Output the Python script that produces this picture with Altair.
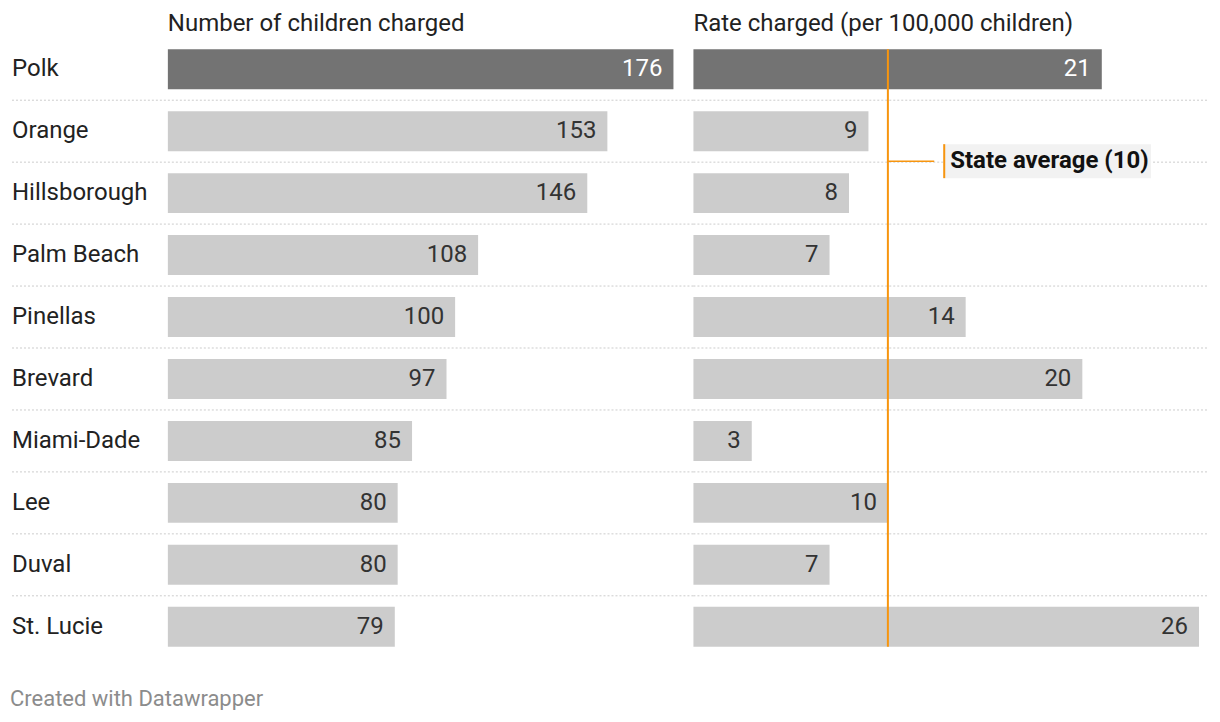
import altair as alt
import pandas as pd

counties = ["Polk", "Orange", "Hillsborough", "Palm Beach", "Pinellas",
            "Brevard", "Miami-Dade", "Lee", "Duval", "St. Lucie"]
charged = [176, 153, 146, 108, 100, 97, 85, 80, 80, 79]
rate = [21, 9, 8, 7, 14, 20, 3, 10, 7, 26]
state_avg = 10
header_left = "Number of children charged"
header_right = "Rate charged (per 100,000 children)"
footer = "Created with Datawrapper"
avg_label = "State average (10)"

df = pd.DataFrame({"county": counties, "charged": charged, "rate": rate})
df["hl"] = df["county"] == "Polk"
sep = df[df["county"] != counties[-1]]

FONT = "Roboto"
H = 620
yenc = alt.Y("county:N", sort=counties, axis=None,
             scale=alt.Scale(paddingInner=22 / 62, paddingOuter=11 / 62))
bar_color = alt.condition("datum.hl", alt.value("#737373"), alt.value("#cccccc"))
lab_color = alt.condition("datum.hl", alt.value("#ffffff"), alt.value("#333333"))


def separators(width, start=0):
    return alt.Chart(sep).mark_rule(
        color="#cccccc", strokeDash=[2, 2], strokeWidth=1, yOffset=31
    ).encode(y=yenc, x=alt.value(start), x2=alt.value(width))


def header(text):
    return alt.Chart(pd.DataFrame({"t": [text]})).mark_text(
        align="left", baseline="middle", font=FONT, fontSize=24, color="#222222"
    ).encode(text="t:N", x=alt.value(0), y=alt.value(-14))


# labels column
LW = 158
labels = alt.Chart(df).mark_text(
    align="left", baseline="middle", font=FONT, fontSize=24, color="#222222", dx=2
).encode(y=yenc, x=alt.value(0), text="county:N")
foot = alt.Chart(pd.DataFrame({"t": [footer]})).mark_text(
    align="left", baseline="middle", font=FONT, fontSize=22, color="#8c8c8c"
).encode(text="t:N", x=alt.value(0), y=alt.value(661))
label_panel = alt.layer(separators(LW, 2), labels, foot).properties(width=LW, height=H)

# left bars
W1 = 526
x1 = alt.X("charged:Q", axis=None, scale=alt.Scale(domain=[0, 176 * W1 / 506], nice=False))
bars1 = alt.Chart(df).mark_bar().encode(y=yenc, x=x1, color=bar_color)
txt1 = alt.Chart(df).mark_text(
    align="right", baseline="middle", font=FONT, fontSize=24, dx=-11
).encode(y=yenc, x=x1, text="charged:Q", color=lab_color)
left_panel = alt.layer(separators(W1), bars1, txt1, header(header_left)).properties(width=W1, height=H)

# right bars
W2 = 514
x2 = alt.X("rate:Q", axis=None, scale=alt.Scale(domain=[0, 26 * W2 / 506], nice=False))
bars2 = alt.Chart(df).mark_bar().encode(y=yenc, x=x2, color=bar_color)
txt2 = alt.Chart(df).mark_text(
    align="right", baseline="middle", font=FONT, fontSize=24, dx=-11
).encode(y=yenc, x=x2, text="rate:Q", color=lab_color)
avg_df = pd.DataFrame({"v": [state_avg], "t": [avg_label]})
avg_line = alt.Chart(avg_df).mark_rule(color="#f7950f", strokeWidth=2).encode(
    x=alt.X("v:Q", scale=alt.Scale(domain=[0, 26 * W2 / 506], nice=False)),
    y=alt.value(11), y2=alt.value(H - 11))
connector = alt.Chart(avg_df).mark_rule(color="#f7950f", strokeWidth=1.5).encode(
    x=alt.X("v:Q"), x2=alt.value(241), y=alt.value(123))
box = alt.Chart(avg_df).mark_rect(color="#f2f2f2").encode(
    x=alt.value(250), x2=alt.value(458), y=alt.value(106), y2=alt.value(140))
box_edge = alt.Chart(avg_df).mark_rule(color="#f7950f", strokeWidth=2).encode(
    x=alt.value(251), y=alt.value(106), y2=alt.value(140))
avg_text = alt.Chart(avg_df).mark_text(
    align="left", baseline="middle", font=FONT, fontSize=24, fontWeight="bold", color="#111111"
).encode(x=alt.value(257), y=alt.value(123), text="t:N")
right_panel = alt.layer(
    separators(W2), bars2, txt2, avg_line, connector, box, box_edge, avg_text, header(header_right)
).properties(width=W2, height=H)

chart = alt.hconcat(label_panel, left_panel, right_panel, spacing=0, bounds="flush").properties(
    padding={"left": 10, "top": 12, "right": 12, "bottom": 0},
    background="#ffffff",
).configure_view(stroke=None).configure_concat(spacing=0)

chart.save("out.html", embed_options={"renderer": "svg", "actions": False})
